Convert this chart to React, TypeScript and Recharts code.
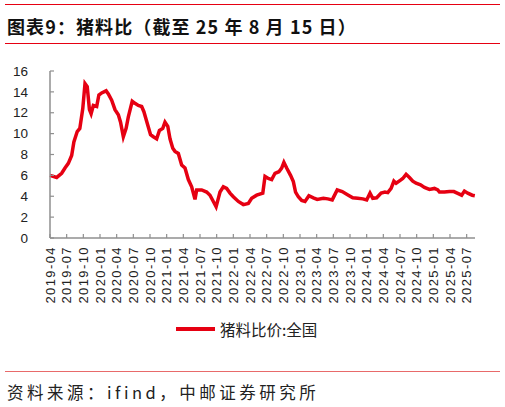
import { Line, LineChart, XAxis, YAxis } from "recharts";

const dates = [
  "2019-04-01", "2019-05-07", "2019-06-04", "2019-06-22", "2019-07-10", "2019-07-28",
  "2019-08-10", "2019-08-28", "2019-09-12", "2019-09-28", "2019-10-10", "2019-10-22",
  "2019-11-04", "2019-11-13", "2019-11-25", "2019-12-13", "2019-12-25", "2020-01-10",
  "2020-02-04", "2020-02-16", "2020-03-04", "2020-03-22", "2020-04-10", "2020-04-22",
  "2020-05-07", "2020-05-22", "2020-06-04", "2020-06-25", "2020-07-10", "2020-07-28",
  "2020-08-16", "2020-08-28", "2020-09-16", "2020-10-04", "2020-10-19", "2020-11-07",
  "2020-11-22", "2020-12-10", "2020-12-22", "2021-01-07", "2021-01-19", "2021-02-04",
  "2021-02-16", "2021-03-04", "2021-03-22", "2021-04-10", "2021-04-28", "2021-05-16",
  "2021-06-04", "2021-06-13", "2021-07-10", "2021-08-07", "2021-08-25", "2021-09-13",
  "2021-09-28", "2021-10-10", "2021-10-19", "2021-11-07", "2021-11-25", "2021-12-13",
  "2022-01-01", "2022-01-28", "2022-02-25", "2022-03-22", "2022-04-10", "2022-05-07",
  "2022-06-10", "2022-06-22", "2022-07-10", "2022-07-28", "2022-08-16", "2022-09-07",
  "2022-09-22", "2022-10-04", "2022-10-19", "2022-11-10", "2022-11-25", "2022-12-07",
  "2022-12-22", "2023-01-10", "2023-01-28", "2023-02-19", "2023-03-13", "2023-04-04",
  "2023-05-07", "2023-06-01", "2023-06-25", "2023-07-22", "2023-08-19", "2023-09-22",
  "2023-10-16", "2023-11-13", "2023-12-10", "2024-01-01", "2024-01-19", "2024-02-04",
  "2024-02-25", "2024-03-19", "2024-04-10", "2024-04-25", "2024-05-13", "2024-05-28",
  "2024-06-10", "2024-07-04", "2024-07-16", "2024-08-04", "2024-08-22", "2024-09-10",
  "2024-09-28", "2024-10-22", "2024-11-13", "2024-12-10", "2025-01-07", "2025-01-25",
  "2025-02-04", "2025-03-01", "2025-03-28", "2025-04-22", "2025-05-10", "2025-06-04",
  "2025-06-19", "2025-07-07", "2025-08-01", "2025-08-15",
];

const hogFeedRatio = [
  6.0, 5.8, 6.2, 6.7, 7.15, 7.9,
  9.2, 10.2, 10.5, 12.4, 14.8, 14.5,
  12.3, 11.9, 12.7, 12.6, 13.7, 13.9,
  14.1, 13.8, 13.2, 12.3, 11.8, 11.1,
  9.7, 10.5, 11.6, 13.1, 12.9, 12.7,
  12.6, 12.1, 11.0, 9.9, 9.7, 9.5,
  10.3, 10.5, 11.1, 10.7, 9.5, 8.6,
  8.3, 8.1, 7.0, 6.7, 5.6, 4.9,
  3.7, 4.6, 4.6, 4.4, 4.1, 3.5,
  3.0, 3.8, 4.4, 4.9, 4.75, 4.3,
  3.95, 3.5, 3.2, 3.3, 3.8, 4.1,
  4.3, 5.9, 5.7, 5.6, 6.2, 6.35,
  6.7, 7.25, 6.7, 6.0, 5.4, 4.4,
  3.95, 3.6, 3.5, 4.05, 3.85, 3.7,
  3.8, 3.75, 3.65, 4.6, 4.45, 4.1,
  3.85, 3.8, 3.75, 3.65, 4.3, 3.8,
  3.85, 4.3, 4.4, 4.35, 4.75, 5.45,
  5.25, 5.55, 5.7, 6.1, 5.8, 5.45,
  5.25, 5.1, 4.85, 4.65, 4.75, 4.6,
  4.4, 4.4, 4.45, 4.45, 4.3, 4.1,
  4.5, 4.3, 4.1, 4.05,
];

const xTickLabels = [
  "2019-04", "2019-07", "2019-10", "2020-01", "2020-04", "2020-07", "2020-10",
  "2021-01", "2021-04", "2021-07", "2021-10", "2022-01", "2022-04", "2022-07",
  "2022-10", "2023-01", "2023-04", "2023-07", "2023-10", "2024-01", "2024-04",
  "2024-07", "2024-10", "2025-01", "2025-04", "2025-07",
];

const yTicks = [0, 2, 4, 6, 8, 10, 12, 14, 16];

const RED = "#e60012";
const AXIS = "#8f8f8f";
const NUM_FONT = "'Liberation Sans', Arial, sans-serif";
const CJK_FONT = "'Noto Sans CJK SC', sans-serif";

// months since 2019-04
function toMonths(s: string): number {
  const [y, m, d] = s.split("-").map(Number);
  return (y - 2019) * 12 + (m - 4) + (d - 1) / 30;
}

const data = dates.map((d, i) => ({ t: toMonths(d), v: hogFeedRatio[i] }));
const xTicks = xTickLabels.map((l) => toMonths(l + "-01"));

function fmtMonth(v: number): string {
  const idx = xTicks.findIndex((t) => Math.abs(t - v) < 0.01);
  return idx >= 0 ? xTickLabels[idx] : "";
}

function XTick(props: any) {
  const { x, y, payload } = props;
  const axisY = y - 8;
  return (
    <g>
      <line x1={x} y1={axisY} x2={x} y2={axisY - 4} stroke={AXIS} strokeWidth={1.2} />
      <text
        x={x}
        y={y}
        dy="0.35em"
        transform={`rotate(-90, ${x}, ${y})`}
        textAnchor="end"
        fill="#222"
        fontSize={13}
        letterSpacing={1.4}
        fontFamily={NUM_FONT}
      >
        {fmtMonth(payload.value)}
      </text>
    </g>
  );
}

function YTick(props: any) {
  const { x, y, payload } = props;
  const axisX = x + 22;
  return (
    <g>
      <line x1={axisX} y1={y} x2={axisX + 4} y2={y} stroke={AXIS} strokeWidth={1.2} />
      <text x={x} y={y} dy="0.35em" textAnchor="end" fill="#222" fontSize={13.5} fontFamily={NUM_FONT}>
        {payload.value}
      </text>
    </g>
  );
}

export default function App() {
  return (
    <div style={{ position: "absolute", left: 0, top: 0, width: 505, height: 407, background: "#fff", overflow: "hidden" }}>
      <div style={{ position: "absolute", left: 5, top: 4, width: 495, height: 0, borderTop: `1.5px solid ${RED}` }} />
      <div
        style={{
          position: "absolute",
          left: 7,
          top: 13,
          fontFamily: CJK_FONT,
          fontWeight: 700,
          fontSize: 18,
          letterSpacing: 1.1,
          lineHeight: "26px",
          color: "#111",
          whiteSpace: "nowrap",
        }}
      >
        图表9：猪料比（截至 25 年 8 月 15 日）
      </div>
      <div style={{ position: "absolute", left: 5, top: 43, width: 495, height: 0, borderTop: `1.5px solid ${RED}` }} />

      <div style={{ position: "absolute", left: 0, top: 50 }}>
        <LineChart width={505} height={300} data={data} margin={{ top: 21, right: 30, bottom: 42, left: 10 }}>
          <XAxis
            dataKey="t"
            type="number"
            domain={[0, 76.5]}
            ticks={xTicks}
            interval={0}
            tick={<XTick />}
            tickSize={0}
            tickMargin={8}
            height={70}
            axisLine={{ stroke: AXIS, strokeWidth: 1.5 }}
            tickLine={false}
          />
          <YAxis
            type="number"
            domain={[0, 16]}
            ticks={yTicks}
            interval={0}
            tick={<YTick />}
            tickSize={0}
            tickMargin={22}
            width={40}
            axisLine={{ stroke: AXIS, strokeWidth: 1.5 }}
            tickLine={false}
          />
          <Line
            type="linear"
            dataKey="v"
            stroke={RED}
            strokeWidth={3.5}
            dot={false}
            isAnimationActive={false}
          />
        </LineChart>
      </div>

      <div style={{ position: "absolute", left: 176, top: 318, display: "flex", alignItems: "center", height: 22 }}>
        <svg width={40} height={22}>
          <line x1={0} y1={11} x2={39} y2={11} stroke={RED} strokeWidth={4} />
        </svg>
        <span style={{ fontFamily: CJK_FONT, fontSize: 15.5, color: "#222", marginLeft: 4, whiteSpace: "nowrap" }}>
          猪料比价:全国
        </span>
      </div>

      <div style={{ position: "absolute", left: 5, top: 371, width: 495, height: 0, borderTop: "1.5px solid #e86a6a" }} />
      <div
        style={{
          position: "absolute",
          left: 7,
          top: 380,
          fontFamily: CJK_FONT,
          fontSize: 16.5,
          letterSpacing: 3.5,
          lineHeight: "24px",
          color: "#222",
          whiteSpace: "nowrap",
        }}
      >
        资料来源：ifind，中邮证券研究所
      </div>
    </div>
  );
}
